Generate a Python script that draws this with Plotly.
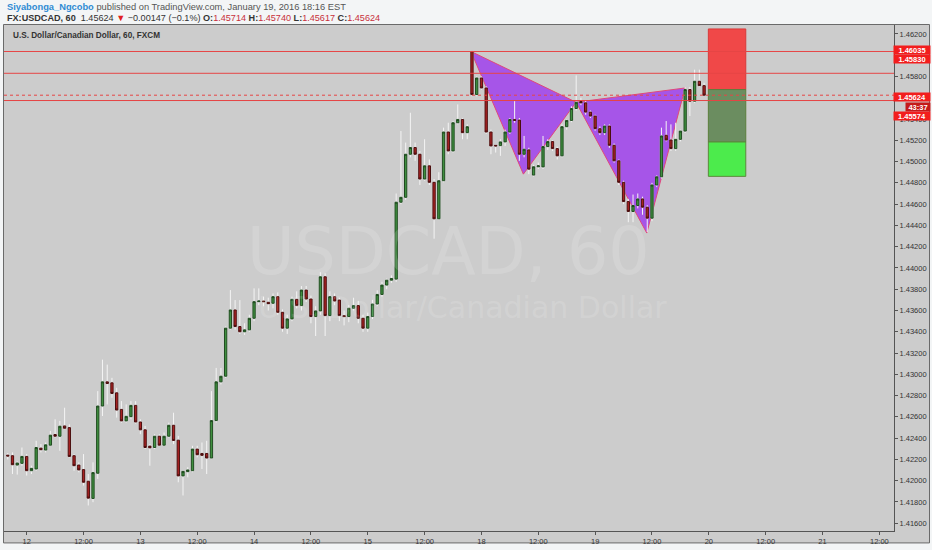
import numpy as np
import plotly.graph_objects as go

# ---------------- data (hourly bars, USDCAD, FXCM) ----------------
bar_index = list(range(-4, 144))
open_ = [1.42240,1.42235,1.42147,1.42163,1.42228,1.42094,1.42110,1.42306,1.42288,1.42334,
         1.42434,1.42418,1.42515,1.42499,1.42235,1.42147,1.42104,1.41995,1.41833,1.42070,
         1.42702,1.42929,1.42920,1.42826,1.42670,1.42562,1.42602,1.42708,1.42552,1.42478,
         1.42325,1.42312,1.42418,1.42334,1.42418,1.42521,1.42381,1.42045,1.42085,1.42094,
         1.42297,1.42256,1.42256,1.42213,1.42565,1.42929,1.42982,1.43434,1.43605,1.43449,
         1.43400,1.43418,1.43527,1.43683,1.43689,1.43677,1.43668,1.43730,1.43583,1.43434,
         1.43521,1.43705,1.43646,1.43792,1.43708,1.43543,1.43596,1.43917,1.43552,1.43730,
         1.43698,1.43552,1.43543,1.43621,1.43646,1.43527,1.43434,1.43543,1.43661,1.43751,
         1.43839,1.43885,1.43895,1.44618,1.44664,1.45069,1.45132,1.45069,1.44836,1.44960,
         1.44805,1.44462,1.44820,1.45278,1.45100,1.45365,1.45396,1.45272,1.46035,1.45630,
         1.45786,1.45692,1.45278,1.45153,1.45150,1.45185,1.45278,1.45396,1.45390,1.45069,
         1.45110,1.44873,1.44951,1.44950,1.45141,1.45188,1.45122,1.45054,1.45328,1.45387,
         1.45499,1.45565,1.45552,1.45465,1.45428,1.45309,1.45272,1.45334,1.45153,1.45007,
         1.44805,1.44624,1.44531,1.44587,1.44649,1.44571,1.44468,1.44780,1.44857,1.45247,
         1.45203,1.45122,1.45209,1.45287,1.45677,1.45568,1.45755,1.45714]
high = [1.42260,1.42266,1.42182,1.42312,1.42250,1.42141,1.42375,1.42344,1.42359,1.42468,
        1.42577,1.42562,1.42686,1.42530,1.42250,1.42172,1.42250,1.42063,1.42172,1.42842,
        1.43138,1.43091,1.42967,1.42873,1.42748,1.42717,1.42748,1.42748,1.42577,1.42515,
        1.42344,1.42437,1.42437,1.42453,1.42546,1.42639,1.42421,1.42101,1.42126,1.42328,
        1.42328,1.42359,1.42375,1.42842,1.43060,1.43060,1.43450,1.43792,1.43698,1.43698,
        1.43480,1.43560,1.43808,1.43808,1.43730,1.43720,1.43760,1.43770,1.43610,1.43560,
        1.43730,1.43780,1.43830,1.43830,1.43740,1.43640,1.43960,1.43950,1.43780,1.43760,
        1.43720,1.43600,1.43650,1.43720,1.43690,1.43560,1.43580,1.43700,1.43790,1.43870,
        1.43900,1.43930,1.44700,1.45287,1.45178,1.45459,1.45178,1.45100,1.45210,1.45020,
        1.44836,1.44900,1.45319,1.45365,1.45380,1.45537,1.45410,1.45350,1.46035,1.45801,
        1.45801,1.45708,1.45300,1.45160,1.45210,1.45300,1.45410,1.45568,1.45410,1.45241,
        1.45130,1.44970,1.44990,1.45241,1.45210,1.45200,1.45140,1.45350,1.45400,1.45520,
        1.45810,1.45600,1.45570,1.45480,1.45440,1.45330,1.45350,1.45350,1.45170,1.45020,
        1.44820,1.44649,1.44690,1.44700,1.44670,1.44590,1.44800,1.44870,1.45319,1.45381,
        1.45350,1.45365,1.45300,1.45700,1.45700,1.45864,1.45864,1.45740]
low = [1.42200,1.42063,1.42057,1.42141,1.42048,1.42063,1.42094,1.42266,1.42266,1.42328,
       1.42406,1.42281,1.42484,1.42219,1.42094,1.42079,1.41954,1.41767,1.41798,1.42017,
       1.42608,1.42717,1.42780,1.42593,1.42546,1.42546,1.42577,1.42537,1.42437,1.42297,
       1.42141,1.42297,1.42328,1.42328,1.42406,1.42344,1.41985,1.41861,1.42032,1.42079,
       1.42219,1.42110,1.42063,1.42203,1.42546,1.42905,1.42967,1.43420,1.43420,1.43380,
       1.43370,1.43400,1.43500,1.43650,1.43640,1.43600,1.43620,1.43560,1.43400,1.43380,
       1.43500,1.43620,1.43600,1.43680,1.43480,1.43360,1.43560,1.43360,1.43500,1.43650,
       1.43500,1.43460,1.43490,1.43600,1.43480,1.43400,1.43400,1.43520,1.43640,1.43730,
       1.43800,1.43860,1.43870,1.44600,1.44640,1.45040,1.45007,1.44780,1.44820,1.44780,
       1.44275,1.44450,1.44805,1.45069,1.45085,1.45350,1.45210,1.45210,1.45614,1.45614,
       1.45677,1.45260,1.45069,1.45085,1.45054,1.45147,1.45260,1.45365,1.45007,1.45040,
       1.44882,1.44860,1.44930,1.44930,1.45110,1.45100,1.45020,1.45040,1.45300,1.45370,
       1.45480,1.45530,1.45440,1.45410,1.45290,1.45250,1.45250,1.45130,1.44990,1.44780,
       1.44600,1.44430,1.44430,1.44560,1.44500,1.44337,1.44440,1.44760,1.44840,1.45190,
       1.45100,1.45100,1.45190,1.45270,1.45428,1.45550,1.45700,1.45617]
close = [1.42232,1.42150,1.42166,1.42228,1.42094,1.42116,1.42312,1.42291,1.42337,1.42428,
         1.42418,1.42512,1.42493,1.42228,1.42141,1.42101,1.41985,1.41836,1.42076,1.42702,
         1.42929,1.42914,1.42820,1.42664,1.42562,1.42605,1.42708,1.42552,1.42478,1.42312,
         1.42309,1.42418,1.42334,1.42418,1.42521,1.42378,1.42045,1.42088,1.42101,1.42297,
         1.42244,1.42238,1.42213,1.42565,1.42929,1.42982,1.43434,1.43605,1.43449,1.43400,
         1.43418,1.43527,1.43683,1.43689,1.43683,1.43664,1.43730,1.43583,1.43434,1.43521,
         1.43705,1.43646,1.43792,1.43708,1.43543,1.43596,1.43917,1.43552,1.43730,1.43689,
         1.43552,1.43543,1.43621,1.43646,1.43527,1.43434,1.43543,1.43661,1.43751,1.43839,
         1.43885,1.43901,1.44618,1.44664,1.45069,1.45132,1.45069,1.44836,1.44960,1.44805,
         1.44462,1.44820,1.45278,1.45100,1.45365,1.45396,1.45272,1.45328,1.45630,1.45786,
         1.45692,1.45278,1.45147,1.45147,1.45185,1.45278,1.45396,1.45387,1.45069,1.45116,
         1.44929,1.44951,1.44960,1.45141,1.45188,1.45122,1.45054,1.45328,1.45387,1.45499,
         1.45558,1.45552,1.45465,1.45428,1.45309,1.45272,1.45334,1.45153,1.45007,1.44805,
         1.44624,1.44531,1.44587,1.44649,1.44571,1.44468,1.44780,1.44857,1.45241,1.45203,
         1.45122,1.45209,1.45287,1.45677,1.45568,1.45755,1.45714,1.45624]

# axis ticks (1.460 and 1.456 sit under the price tags and are not shown)
x_tickvals = [0, 12, 24, 36, 48, 60, 72, 84, 96, 108, 120, 132, 144, 156, 168, 180]
x_ticktext = ["12", "12:00", "13", "12:00", "14", "12:00", "15", "12:00",
              "18", "12:00", "19", "12:00", "20", "12:00", "21", "12:00"]
y_tickvals = [1.416, 1.418, 1.420, 1.422, 1.424, 1.426, 1.428, 1.430, 1.432, 1.434,
              1.436, 1.438, 1.440, 1.442, 1.444, 1.446, 1.448, 1.450, 1.452, 1.454,
              1.458, 1.462]

# drawings: harmonic pattern X-A-B-C-D
pattern_x = [93.8, 104.85, 115.97, 130.9, 139.0]
pattern_y = [1.46035, 1.44882, 1.45558, 1.44328, 1.45692]
# horizontal levels
level_prices = [1.46035, 1.45830, 1.45574]
last_price = 1.45624
# position tool: stop top, entry, middle, target
position_x = [143.9, 151.8]
position_levels = [1.46247, 1.45677, 1.45184, 1.44861]

# ---------------- figure ----------------
W, H = 932, 550
L, R, T, B = 4, 38, 25, 16
x_range = [-4.79, 183.09]
y_range = [1.41527, 1.46284]

BG = "#cccccc"
fig = go.Figure()

# watermark
fig.add_trace(go.Scatter(
    x=[89.0, 92.0], y=[1.44097, 1.43600], mode="text",
    text=["USDCAD, 60", "U.S. Dollar/Canadian Dollar"],
    textfont=dict(family="DejaVu Sans", size=[65, 30], color="rgba(255,255,255,0.15)"),
    hoverinfo="skip", showlegend=False))

o = np.array(open_); c = np.array(close)
# wicks (white)
fig.add_trace(go.Candlestick(
    x=bar_index, open=open_, high=high, low=low, close=close,
    increasing=dict(line=dict(color="#f4f4f4", width=1), fillcolor="rgba(0,0,0,0)"),
    decreasing=dict(line=dict(color="#f4f4f4", width=1), fillcolor="rgba(0,0,0,0)"),
    whiskerwidth=0, hoverinfo="skip", showlegend=False))
# bodies
fig.add_trace(go.Candlestick(
    x=bar_index, open=open_, high=np.maximum(o, c), low=np.minimum(o, c), close=close,
    increasing=dict(line=dict(color="#1f4a1f", width=1), fillcolor="#3f8f3f"),
    decreasing=dict(line=dict(color="#4a0e0e", width=1), fillcolor="#a82222"),
    whiskerwidth=0, hoverinfo="skip", showlegend=False))

shapes = []
def px2paper_x(p): return (p - L) / (W - L - R)
def py2paper_y(p): return (H - B - p) / (H - T - B)
# chart panel
shapes.append(dict(type="rect", xref="paper", yref="paper",
                   x0=px2paper_x(3.5), x1=px2paper_x(929.5), y0=py2paper_y(546), y1=py2paper_y(24.5),
                   fillcolor=BG, line=dict(color="#6a6a6a", width=1), layer="below"))
# harmonic pattern triangles (under the candles)
for idx in ([0, 1, 2], [2, 3, 4]):
    path = "M " + " L ".join(f"{pattern_x[i]},{pattern_y[i]}" for i in idx) + " Z"
    shapes.append(dict(type="path", xref="x", yref="y", path=path, layer="below",
                       fillcolor="#a655e8", line=dict(color="#e0487a", width=1)))
# position tool
shapes.append(dict(type="rect", xref="x", yref="y", x0=position_x[0], x1=position_x[1],
                   y0=position_levels[1], y1=position_levels[0],
                   fillcolor="#f04848", line=dict(color="#d83a3a", width=1)))
shapes.append(dict(type="rect", xref="x", yref="y", x0=position_x[0], x1=position_x[1],
                   y0=position_levels[2], y1=position_levels[1],
                   fillcolor="#6b8d60", line=dict(color="#5c7f3c", width=1)))
shapes.append(dict(type="rect", xref="x", yref="y", x0=position_x[0], x1=position_x[1],
                   y0=position_levels[3], y1=position_levels[2],
                   fillcolor="#4ceb4c", line=dict(color="#5c8a3c", width=1)))
# horizontal levels
for lp in level_prices:
    shapes.append(dict(type="line", xref="paper", yref="y", x0=0, x1=1, y0=lp, y1=lp,
                       line=dict(color="#e64545", width=1)))
shapes.append(dict(type="line", xref="paper", yref="y", x0=0, x1=1, y0=last_price, y1=last_price,
                   line=dict(color="#e64545", width=1, dash="dot")))

ann = []
hdr_font = "Liberation Sans"
ann.append(dict(xref="paper", yref="paper", x=px2paper_x(5), y=py2paper_y(7), xanchor="left",
                yanchor="middle", showarrow=False,
                text='<b><span style="color:#2f8bd3">Siyabonga_Ngcobo</span></b> published on TradingView.com, January 19, 2016 18:16 EST',
                font=dict(family=hdr_font, size=9.3, color="#555555")))
red = "#c8303a"
ann.append(dict(xref="paper", yref="paper", x=px2paper_x(5), y=py2paper_y(17.5), xanchor="left",
                yanchor="middle", showarrow=False,
                text=('<b>FX:USDCAD, 60</b>  1.45624 <span style="color:#e02020">▼</span> −0.00147 (−0.1%) '
                      f'<b>O:</b><span style="color:{red}">1.45714</span> '
                      f'<b>H:</b><span style="color:{red}">1.45740</span> '
                      f'<b>L:</b><span style="color:{red}">1.45617</span> '
                      f'<b>C:</b><span style="color:{red}">1.45624</span>'),
                font=dict(family=hdr_font, size=9.1, color="#333333")))
ann.append(dict(xref="paper", yref="paper", x=px2paper_x(11), y=py2paper_y(36), xanchor="left",
                yanchor="middle", showarrow=False,
                text="<b>U.S. Dollar/Canadian Dollar, 60, FXCM</b>",
                font=dict(family=hdr_font, size=8.2, color="#333333")))

# right-hand price labels
labels = [("1.46035", 50.0, "#f21d1d", 893), ("1.45830", 59.3, "#f21d1d", 893),
          ("1.45624", 97.3, "#f21d1d", 893), ("43:37", 107.2, "#c41a1a", 905),
          ("1.45574", 116.7, "#f21d1d", 893)]
for txt, ypx, col, x0 in labels:
    ann.append(dict(xref="paper", yref="paper", x=px2paper_x(x0), y=py2paper_y(ypx),
                    xanchor="left", yanchor="middle", showarrow=False,
                    text=f"<b>{txt}</b>", bgcolor=col, borderpad=1,
                    width=(929 - x0) - 2, height=6, align="center",
                    font=dict(family="Liberation Sans", size=7.5, color="#ffffff")))

fig.update_layout(
    width=W, height=H, margin=dict(l=L, r=R, t=T, b=B),
    paper_bgcolor="#f3f5f6", plot_bgcolor=BG,
    showlegend=False, shapes=shapes, annotations=ann,
    xaxis=dict(range=x_range, tickvals=x_tickvals, ticktext=x_ticktext,
               showgrid=False, zeroline=False, showline=True, linecolor="#555555",
               ticks="outside", ticklen=3, tickcolor="#555555",
               tickfont=dict(family="Liberation Sans", size=7.5, color="#333333"),
               rangeslider=dict(visible=False), fixedrange=True),
    yaxis=dict(range=y_range, side="right", tickvals=y_tickvals, tickformat=".5f",
               showgrid=False, zeroline=False, showline=True, linecolor="#555555",
               ticks="outside", ticklen=3, tickcolor="#555555",
               tickfont=dict(family="Liberation Sans", size=7.5, color="#333333"),
               fixedrange=True),
)

fig.write_html("out.html", config={"displayModeBar": False},
               post_script="document.body.style.margin='0';document.body.style.overflow='hidden';")
